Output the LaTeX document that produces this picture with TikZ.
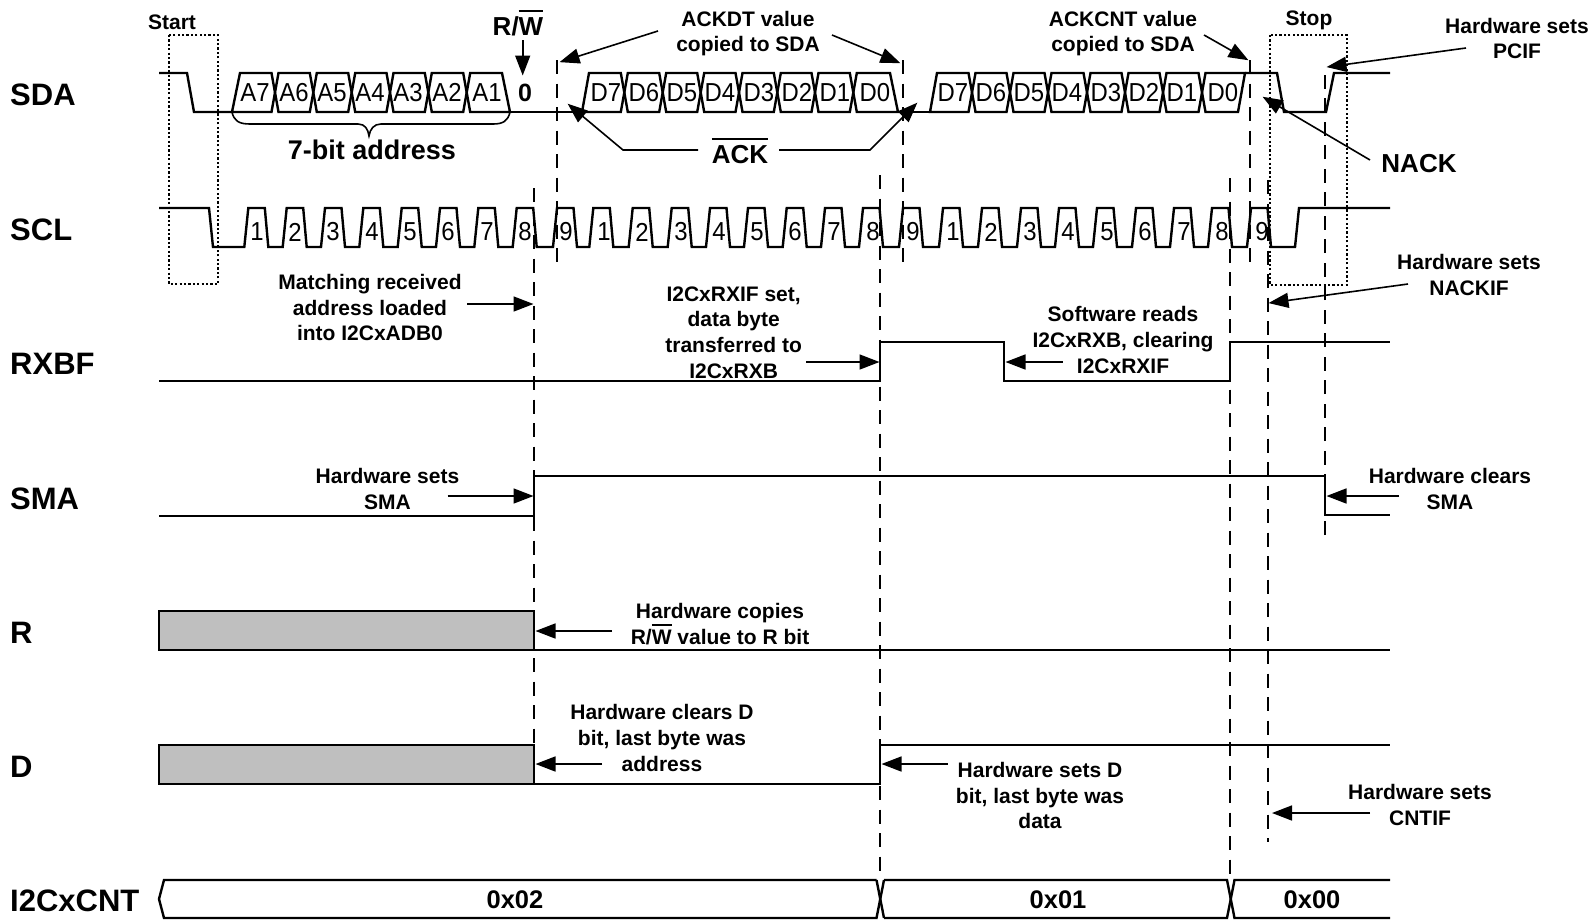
\documentclass[tikz,border=0pt]{standalone}
\usepackage{fontspec}
\setmainfont{Liberation Sans}
\newfontfamily\bitfont[FakeStretch=0.92]{Liberation Sans}
\usetikzlibrary{arrows.meta}
\newcommand\ovl[1]{\smash{\vbox{\hrule height 0.08em \kern 0.2em \hbox{#1}}}}
\newcommand\conn[3]{\coordinate (#1s) at (#2); \coordinate (#1e) at (#3); \draw[arrowline] (#1s) -- (#1e);}
\tikzset{
  sig/.style={line width=2.4pt,line join=miter,black},
  dashline/.style={line width=1.6pt,dash pattern=on 14pt off 9.5pt,black},
  dotbox/.style={line width=1.5pt,dash pattern=on 2.2pt off 2.2pt,black},
  arrowline/.style={line width=1.6pt,black,-{Triangle[length=20pt,width=15pt]},shorten >=-0.5pt},
  plainline/.style={line width=1.6pt,black},
  siglabel/.style={font=\fontsize{31}{36}\selectfont\bfseries,anchor=west,inner sep=0pt},
  note/.style={font=\fontsize{21}{25.6}\selectfont\bfseries,align=center,inner sep=0pt},
  big/.style={font=\fontsize{26}{30}\selectfont\bfseries,inner sep=0pt},
  bit/.style={font=\fontsize{26}{30}\bitfont,inner sep=0pt},
  val/.style={font=\fontsize{25.5}{30}\selectfont\bfseries,inner sep=0pt}
}
\begin{document}
\begin{tikzpicture}[x=1pt,y=-1pt]
\useasboundingbox (0,0) rectangle (1595,919);
% dotted boxes
\draw[dotbox] (169,35) rectangle (218,284);
\draw[dotbox] (1270,35) rectangle (1347,285);
% dashed verticals
\draw[dashline] (534,188) -- (534,745);
\draw[dashline] (557,60) -- (557,267);
\draw[dashline] (880,175) -- (880,880);
\draw[dashline] (903,60) -- (903,267);
\draw[dashline] (1230,178) -- (1230,880);
\draw[dashline] (1250,60) -- (1250,267);
\draw[dashline] (1268,180) -- (1268,842);
\draw[dashline] (1325,535) -- (1325,65);
% signal labels
\node[siglabel] (lsda) at (10,95) {SDA};
\node[siglabel] (lscl) at (10,230) {SCL};
\node[siglabel] (lrxbf) at (10,364) {RXBF};
\node[siglabel] (lsma) at (10,499) {SMA};
\node[siglabel] (lr) at (10,633) {R};
\node[siglabel] (ld) at (10,767) {D};
\node[siglabel] (lcnt) at (10,901) {I2CxCNT};
% SDA
\draw[sig] (159,73) -- (187,73) -- (194,112) -- (232,112);
\draw[sig] (510,112) -- (582,112);
\draw[sig] (898,112) -- (930,112);
\draw[sig] (1245,73) -- (1277,73) -- (1284,112) -- (1326,112) -- (1334,73) -- (1390,73);
% address cells
\draw[sig] (232,112) -- (240,73) -- (271.5,73) -- (275,92.5) -- (271.5,112) -- cycle;
\foreach \l/\r in {275/313.3,313.3/351.7,351.7/390,390/428.3,428.3/466.7}
  \draw[sig] (\l+3.5,73) -- (\r-3.5,73) -- (\r,92.5) -- (\r-3.5,112) -- (\l+3.5,112) -- (\l,92.5) -- cycle;
\draw[sig] (470.2,73) -- (502,73) -- (510,112) -- (470.2,112) -- (466.7,92.5) -- cycle;
\foreach \x/\t in {255/A7,294/A6,332/A5,370/A4,408/A3,447/A2,487/A1}
  \node[bit,name=cell\t] at (\x,92.5) {\t};
\node[big,font=\fontsize{25}{30}\selectfont\bfseries] (zero) at (525,92.5) {0};
% first data byte
\draw[sig] (582,112) -- (589,73) -- (620.8,73) -- (624.3,92.5) -- (620.8,112) -- cycle;
\foreach \l/\r in {624.3/662.7,662.7/700.7,700.7/739,739/777.3,777.3/815,815/853.3}
  \draw[sig] (\l+3.5,73) -- (\r-3.5,73) -- (\r,92.5) -- (\r-3.5,112) -- (\l+3.5,112) -- (\l,92.5) -- cycle;
\draw[sig] (856.8,73) -- (890,73) -- (898,112) -- (856.8,112) -- (853.3,92.5) -- cycle;
\foreach \x/\t in {606/D7,644/D6,682/D5,720/D4,759/D3,797/D2,835/D1,875/D0}
  \node[bit,name=first\t] at (\x,92.5) {\t};
% second data byte
\draw[sig] (930,112) -- (937,73) -- (968.5,73) -- (972,92.5) -- (968.5,112) -- cycle;
\foreach \l/\r in {972/1010,1010/1048,1048/1087,1087/1125,1125/1163,1163/1202}
  \draw[sig] (\l+3.5,73) -- (\r-3.5,73) -- (\r,92.5) -- (\r-3.5,112) -- (\l+3.5,112) -- (\l,92.5) -- cycle;
\draw[sig] (1205.5,73) -- (1245,73) -- (1238,112) -- (1205.5,112) -- (1202,92.5) -- cycle;
\foreach \x/\t in {953/D7,991/D6,1029/D5,1067/D4,1106/D3,1144/D2,1182/D1,1223/D0}
  \node[bit,name=second\t] at (\x,92.5) {\t};
% brace
\draw[plainline] (232,112) .. controls (234,121) and (239,124) .. (250,124) -- (358,124) .. controls (365,124) and (368,129) .. (369,136) .. controls (370,129) and (374,124) .. (381,124) -- (493,124) .. controls (503,124) and (508,121) .. (510,112);
\node[note,font=\fontsize{27}{30}\selectfont\bfseries] (addr) at (372,150) {7-bit address};
% SCL
\draw[sig] (159,208) -- (209,208) -- (213,247)
  \foreach \t in {248.3,286.7,325,363.3,401.7,440,478.3,516.7,557,593.3,632.7,671.7,710,748,786.7,825,863,903,943,982,1021,1059,1097,1136,1174,1212,1251}
  { -- (\t-4,247) -- (\t,208) -- (\t+16.5,208) -- (\t+20,247) }
  -- (1295,247) -- (1299,208) -- (1390,208);
\foreach \i/\x/\n in {a/257/1,b/295/2,c/333/3,d/372/4,e/410/5,f/448/6,g/487/7,h/525/8,i/566/9,j/604/1,k/642/2,l/681/3,m/719/4,n/757/5,o/795/6,p/834/7,q/873/8,r/913/9,s/953/1,t/991/2,u/1030/3,v/1068/4,w/1107/5,x/1145/6,y/1184/7,z/1222/8,aa/1262/9}
  \node[bit,name=pulse\i] at (\x,232) {\n};
% RXBF
\draw[sig] (159,381) -- (880,381) -- (880,342) -- (1004,342) -- (1004,381) -- (1230,381) -- (1230,342) -- (1390,342);
% SMA
\draw[sig] (159,516) -- (534,516) -- (534,476) -- (1325,476) -- (1325,515) -- (1390,515);
% R
\draw[sig,fill=black!25] (159,611) rectangle (534,650);
\draw[sig] (534,650) -- (1390,650);
% D
\draw[sig,fill=black!25] (159,745) rectangle (534,784);
\draw[sig] (534,784) -- (880,784) -- (880,745) -- (1390,745);
% I2CxCNT
\draw[sig] (1390,880) -- (1234.5,880) -- (1227,918) -- (884,918);
\draw[sig] (884,880) -- (1227,880) -- (1234.5,918) -- (1390,918);
\draw[sig] (876.5,880) -- (164,880) -- (159,899) -- (164,918) -- (876.5,918) -- (884,880);
\draw[sig] (876.5,880) -- (884,918);
\node[val] (v02) at (515,900) {0x02};
\node[val] (v01) at (1058,900) {0x01};
\node[val] (v00) at (1312,900) {0x00};
% top labels
\node[note] (start) at (172,22) {Start};
\node[note] (stop) at (1309,20) {Stop};
\node[big,anchor=base] (rw) at (518,35) {R/\ovl{W}};
\node[note] (ackdt) at (748,33.5) {ACKDT value\\copied to SDA};
\node[note] (ackcnt) at (1123,33.5) {ACKCNT value\\copied to SDA};
\node[note] (pcif) at (1517,38.5) {Hardware sets\\PCIF};
\node[big] (nack) at (1419,164) {NACK};
\node[big,anchor=base] (ack) at (740,163) {\ovl{ACK}};
\node[note] (nackif) at (1469,275) {Hardware sets\\NACKIF};
\node[note] (match) at (370,307.5) {Matching received\\address loaded\\into I2CxADB0};
\node[note] (rxif) at (733.6,332.5) {I2CxRXIF set,\\data byte\\transferred to\\I2CxRXB};
\node[note] (soft) at (1123,340) {Software reads\\I2CxRXB, clearing\\I2CxRXIF};
\node[note] (setsma) at (387.5,489) {Hardware sets\\SMA};
\node[note] (clrsma) at (1450,489) {Hardware clears\\SMA};
\node[note] (copy) at (720,624) {Hardware copies\\R/\ovl{W} value to R bit};
\node[note] (clrd) at (662,738) {Hardware clears D\\bit, last byte was\\address};
\node[note] (setd) at (1040,795.5) {Hardware sets D\\bit, last byte was\\data};
\node[note] (cntif) at (1420,805) {Hardware sets\\CNTIF};
% arrows
\conn{rwa}{522.7,40}{522.7,75}
\conn{ackdtl}{658,31}{560,62}
\conn{ackdtr}{832,35}{900,63}
\conn{ackcnta}{1204,35}{1248,60}
\conn{nacka}{1370,160}{1263,97}
\conn{pcifa}{1466,48}{1327,67}
\conn{nackifa}{1408,284}{1269,303}
\conn{matcha}{467,304}{533,304}
\conn{rxifa}{806,362}{879,362}
\conn{softa}{1062.5,362}{1006,362}
\conn{setsmaa}{447.5,496}{533,496}
\conn{clrsmaa}{1399,496}{1327,496}
\conn{copya}{612,631}{536,631}
\conn{clrda}{602,764}{536,764}
\conn{setda}{947.5,764}{882,764}
\conn{cntifa}{1370,813}{1272.5,813}
% ACK connectors
\coordinate (ackls) at (698,150); \coordinate (acklm) at (623,150); \coordinate (ackle) at (568,104);
\coordinate (ackrs) at (779,150); \coordinate (ackrm) at (870,150); \coordinate (ackre) at (917,103);
\draw[arrowline] (ackls) -- (acklm) -- (ackle);
\draw[arrowline] (ackrs) -- (ackrm) -- (ackre);
\end{tikzpicture}
\end{document}
